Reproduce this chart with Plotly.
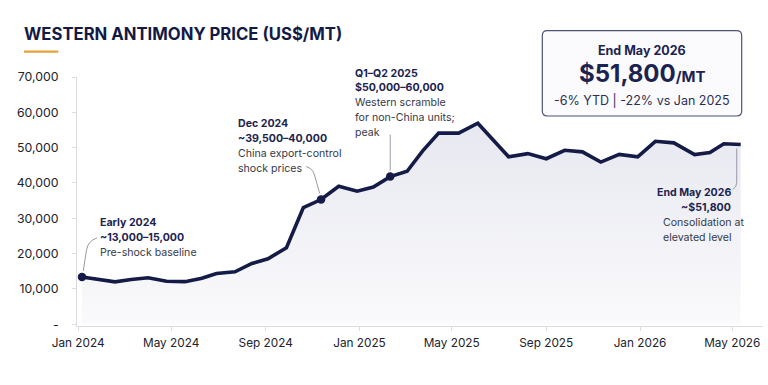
import plotly.graph_objects as go

# ---------------- data ----------------
dates = [
    "2024-01-06", "2024-01-27", "2024-02-18", "2024-03-10", "2024-04-01",
    "2024-04-25", "2024-05-19", "2024-06-10", "2024-06-29", "2024-07-23",
    "2024-08-14", "2024-09-04", "2024-09-28", "2024-10-20", "2024-11-12",
    "2024-12-05", "2024-12-29", "2025-01-19", "2025-02-10", "2025-03-04",
    "2025-03-24", "2025-04-14", "2025-05-10", "2025-06-04", "2025-06-24",
    "2025-07-14", "2025-08-08", "2025-09-01", "2025-09-25", "2025-10-18",
    "2025-11-11", "2025-12-05", "2025-12-29", "2026-01-21", "2026-02-14",
    "2026-03-13", "2026-04-02", "2026-04-20", "2026-05-12",
]
prices = [
    13400, 12650, 12000, 12650, 13150,
    12150, 12050, 13000, 14350, 14850,
    17200, 18550, 21650, 33050, 35300,
    39050, 37650, 38850, 41800, 43300,
    49000, 54100, 54100, 56900, 52100,
    47400, 48300, 46850, 49250, 48800,
    45900, 48100, 47400, 51800, 51350,
    48050, 48600, 51100, 50900,
]
marker_idx = [0, 14, 18]

y_tickvals = [0, 10000, 20000, 30000, 40000, 50000, 60000, 70000]
y_ticktext = ["-", "10,000", "20,000", "30,000", "40,000", "50,000", "60,000", "70,000"]

title_text = "WESTERN ANTIMONY PRICE (US$/MT)"
kpi_head = "End May 2026"
kpi_value = "$51,800"
kpi_unit = "/MT"
kpi_sub = "-6% YTD | -22% vs Jan 2025"

callouts = [
    dict(idx=0, bold=["Early 2024", "~13,000\u201315,000"], reg=["Pre-shock baseline"]),
    dict(idx=14, bold=["Dec 2024", "~39,500\u201340,000"], reg=["China export-control", "shock prices"]),
    dict(idx=18, bold=["Q1\u2013Q2 2025", "$50,000\u201360,000"], reg=["Western scramble", "for non-China units;", "peak"]),
    dict(idx=38, bold=["End May 2026", "~$51,800"], reg=["Consolidation at", "elevated level"]),
]

# ---------------- style ----------------
W, H = 768, 385
ML, MR, MT, MB = 77, 5, 77, 59
PW, PH = W - ML - MR, H - MT - MB
NAVY = "#151b47"
TXT = "#1c2350"
REG = "#363a48"
FONT = "Inter"


def px(x):
    return (x - ML) / PW


def py(y):
    return (MT + PH - y) / PH


fig = go.Figure()
fig.add_trace(go.Scatter(
    x=dates, y=prices, mode="lines",
    line=dict(color=NAVY, width=3.6, shape="linear"),
    fill="tozeroy",
    fillgradient=dict(type="vertical", start=0, stop=57000,
                      colorscale=[[0, "#fafafc"], [1, "#e7e8f0"]]),
    hoverinfo="skip", showlegend=False,
))
fig.add_trace(go.Scatter(
    x=[dates[i] for i in marker_idx], y=[prices[i] for i in marker_idx],
    mode="markers", marker=dict(color=NAVY, size=8.5),
    hoverinfo="skip", showlegend=False,
))

annotations = []
shapes = []

# callout text (per line, anchored to the data point)
layouts = {
    0: dict(anchor="left", dx=16, y0=54.3, sp=14.8),
    14: dict(anchor="left", dx=-85.3, y0=76.0, sp=15.0),
    18: dict(anchor="left", dx=-37.3, y0=103.6, sp=14.8),
    38: dict(anchor="split", dx=-8, dx2=-80, y0=-48.2, sp=15.0),
}
for c in callouts:
    i = c["idx"]
    L = layouts[i]
    lines = [(t, True) for t in c["bold"]] + [(t, False) for t in c["reg"]]
    for k, (t, b) in enumerate(lines):
        if L["anchor"] == "split":
            xa = "right" if b else "left"
            dx = L["dx"] if b else L["dx2"]
        else:
            xa, dx = "left", L["dx"]
        annotations.append(dict(
            x=dates[i], y=prices[i], xref="x", yref="y",
            text=t, showarrow=False,
            xanchor=xa, yanchor="middle", xshift=dx, yshift=L["y0"] - k * L["sp"],
            font=dict(family=FONT, size=10.6, color=TXT if b else REG,
                      weight=650 if b else 400),
        ))

# leader lines (pixel offsets relative to the data point)
leaders = {
    0: "M 1.3 6 L 4.5 27 Q 6 36 15 39",
    14: "M -1.3 6 L -7 26 Q -8.5 31 -15 33",
    18: "M 0 6 L 0 42",
    38: "M -4 -4 L -4 -38 Q -4 -43 -8 -45",
}
for i, p in leaders.items():
    shapes.append(dict(
        type="path", xref="x", yref="y", xsizemode="pixel", ysizemode="pixel",
        xanchor=dates[i], yanchor=prices[i], path=p,
        line=dict(color="#8c8f9c", width=0.9), layer="above",
    ))

# title underline
shapes.append(dict(type="line", xref="paper", yref="paper",
                   x0=px(24), x1=px(58.3), y0=py(51.7), y1=py(51.7),
                   line=dict(color="#e3a23b", width=2.2)))

# KPI box (rounded)
bx0, by0, bx1, by1, r = 542.3, 30.7, 741.7, 116.0, 5
path = (f"M {px(bx0 + r)},{py(by0)} L {px(bx1 - r)},{py(by0)} "
        f"Q {px(bx1)},{py(by0)} {px(bx1)},{py(by0 + r)} "
        f"L {px(bx1)},{py(by1 - r)} Q {px(bx1)},{py(by1)} {px(bx1 - r)},{py(by1)} "
        f"L {px(bx0 + r)},{py(by1)} Q {px(bx0)},{py(by1)} {px(bx0)},{py(by1 - r)} "
        f"L {px(bx0)},{py(by0 + r)} Q {px(bx0)},{py(by0)} {px(bx0 + r)},{py(by0)} Z")
shapes.append(dict(type="path", xref="paper", yref="paper", path=path,
                   fillcolor="#fbfbfd", line=dict(color="#4d5378", width=1.2),
                   layer="above"))
bcx = (bx0 + bx1) / 2
annotations += [
    dict(xref="paper", yref="paper", x=px(bcx), y=py(50.7), showarrow=False,
         xanchor="center", yanchor="middle", text=kpi_head,
         font=dict(family=FONT, size=12.5, color=TXT, weight=650)),
    dict(xref="paper", yref="paper", x=px(bcx), y=py(73.3), showarrow=False,
         xanchor="center", yanchor="middle",
         text=f"<b>{kpi_value}</b><b><span style='font-size:15px'>{kpi_unit}</span></b>",
         font=dict(family=FONT, size=24, color=TXT)),
    dict(xref="paper", yref="paper", x=px(bcx), y=py(100), showarrow=False,
         xanchor="center", yanchor="middle", text=kpi_sub,
         font=dict(family=FONT, size=12.5, color="#2a2f55")),
]

fig.update_layout(
    width=W, height=H,
    margin=dict(l=ML, r=MR, t=MT, b=MB, pad=0),
    paper_bgcolor="#ffffff", plot_bgcolor="#ffffff",
    title=dict(text=f"<b>{title_text}</b>", x=24 / W, xanchor="left", xref="container",
               y=1 - 34.5 / H, yanchor="middle", yref="container",
               font=dict(family=FONT, size=16.7, color="#121a45")),
    annotations=annotations, shapes=shapes, showlegend=False,
    font=dict(family=FONT),
)
fig.update_xaxes(
    type="date", range=["2023-12-30 12:00", "2026-06-10"],
    tickformat="%b %Y", dtick="M4", tick0="2024-01-01",
    showgrid=False, zeroline=False, showline=True, linecolor="#dcdde3", linewidth=1,
    ticks="outside", ticklen=4, tickcolor="#dcdde3", ticklabelstandoff=2,
    tickfont=dict(family=FONT, size=11.8, color="#22232b"),
)
fig.update_yaxes(
    range=[-500, 70000], tickvals=y_tickvals, ticktext=y_ticktext,
    showgrid=False, zeroline=False, showline=True, linecolor="#dcdde3", linewidth=1,
    ticks="outside", ticklen=4, tickcolor="#dcdde3", ticklabelstandoff=11,
    tickfont=dict(family=FONT, size=12.3, color="#22232b"),
)

fig.write_html("out.html")
